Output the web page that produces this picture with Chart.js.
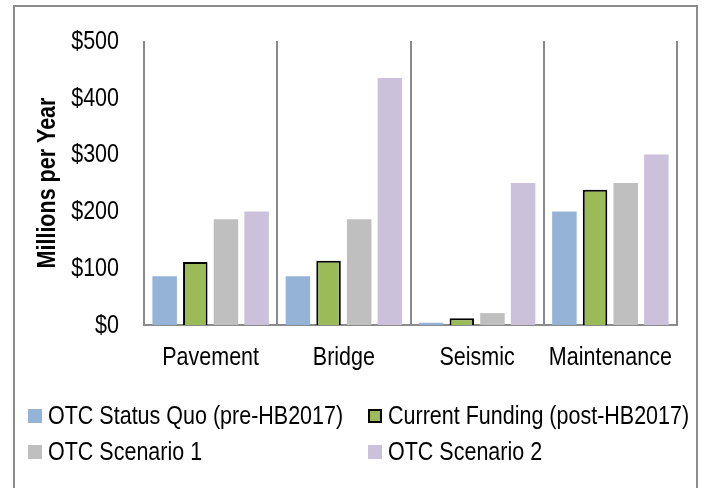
<!DOCTYPE html>
<html>
<head>
<meta charset="utf-8">
<script src="https://cdn.jsdelivr.net/npm/chart.js@4/dist/chart.umd.min.js"></script>
<style>
  html, body { margin: 0; padding: 0; background: #ffffff; }
  #wrap { position: relative; width: 709px; height: 488px; overflow: hidden; }
  canvas { display: block; }
</style>
</head>
<body>
<div id="wrap"><canvas id="chart" width="709" height="488"></canvas></div>
<script>
// Annual funding needs by asset category, millions of dollars per year
const categories = ['Pavement', 'Bridge', 'Seismic', 'Maintenance'];
const seriesNames = [
  'OTC Status Quo (pre-HB2017)',
  'Current Funding (post-HB2017)',
  'OTC Scenario 1',
  'OTC Scenario 2'
];
const statusQuo = [86, 86, 4, 200];
const currentFunding = [111, 113, 12, 238];
const scenario1 = [186, 186, 21, 250];
const scenario2 = [200, 435, 250, 300];
const yTicks = [0, 100, 200, 300, 400, 500];
const yTitle = 'Millions per Year';

const FONT = '"Liberation Sans", Arial, sans-serif';
const FONT_SIZE = 21.5;
const TEXT_STRETCH = 1.16;   // slightly tall lettering
const AXIS_GRAY = '#8a8a8a';

function tallText(ctx, text, x, y, align, rotate, bold) {
  ctx.save();
  ctx.translate(x, y);
  if (rotate) ctx.rotate(rotate);
  ctx.scale(1, TEXT_STRETCH);
  ctx.font = (bold ? 'bold ' : '') + FONT_SIZE + 'px ' + FONT;
  ctx.fillStyle = '#000000';
  ctx.textAlign = align;
  ctx.textBaseline = 'middle';
  ctx.fillText(text, 0, 0);
  ctx.restore();
}

// Axis labels placed through the chart's own scales
const axisText = {
  id: 'axisText',
  afterDraw(chart) {
    const ctx = chart.ctx;
    const xs = chart.scales.x, ys = chart.scales.y;
    yTicks.forEach(v => {
      tallText(ctx, '$' + v, ys.right - 25, ys.getPixelForValue(v) + 1, 'right');
    });
    categories.forEach((c, i) => {
      tallText(ctx, c, xs.getPixelForValue(i), xs.top + 33, 'center');
    });
    tallText(ctx, yTitle, 48, (ys.top + ys.bottom) / 2, 'center', -Math.PI / 2, true);
  }
};

// Two-column legend under the plot
const gridLegend = {
  id: 'gridLegend',
  afterDraw(chart) {
    const ctx = chart.ctx;
    const cols = [28, 368];
    const rows = [416, 452];
    chart.data.datasets.forEach((ds, i) => {
      const x = cols[i % 2];
      const y = rows[Math.floor(i / 2)];
      ctx.save();
      ctx.fillStyle = ds.backgroundColor;
      ctx.fillRect(x, y - 7, 14, 14);
      if (ds.borderWidth) {
        ctx.strokeStyle = ds.borderColor;
        ctx.lineWidth = 2;
        ctx.strokeRect(x + 1, y - 6, 12, 12);
      }
      ctx.restore();
      tallText(ctx, ds.label, x + 20, y + 1, 'left');
    });
  }
};

// Frame around the whole chart
const outerFrame = {
  id: 'outerFrame',
  afterDraw(chart) {
    const ctx = chart.ctx;
    ctx.save();
    ctx.strokeStyle = '#8c8c8c';
    ctx.lineWidth = 2;
    ctx.strokeRect(14, 6, 683, 600);
    ctx.restore();
  }
};

const seriesValues = [statusQuo, currentFunding, scenario1, scenario2];
const fills = ['#95B3D7', '#9BBB59', '#BFBFBF', '#CCC1DA'];

new Chart(document.getElementById('chart'), {
  type: 'bar',
  data: {
    labels: categories,
    datasets: seriesNames.map((name, i) => ({
      label: name,
      data: seriesValues[i],
      backgroundColor: fills[i],
      borderColor: '#000000',
      borderWidth: i === 1 ? 2 : 0,
      categoryPercentage: 0.92,
      barPercentage: 0.8
    }))
  },
  options: {
    responsive: false,
    animation: false,
    devicePixelRatio: 1,
    layout: { padding: { left: 20, right: 32, top: 41, bottom: 0 } },
    plugins: {
      legend: { display: false },
      tooltip: { enabled: false }
    },
    scales: {
      x: {
        offset: true,
        grid: {
          offset: true,
          display: true,
          drawTicks: false,
          color: AXIS_GRAY,
          lineWidth: 2
        },
        border: { display: true, color: AXIS_GRAY, width: 2 },
        ticks: { display: false },
        afterFit: (scale) => { scale.height = 163; }
      },
      y: {
        min: 0,
        max: 500,
        afterBuildTicks: (scale) => { scale.ticks = yTicks.map(v => ({ value: v })); },
        grid: { display: false, drawTicks: false },
        border: { display: false },
        ticks: { display: false },
        afterFit: (scale) => { scale.width = 124; }
      }
    }
  },
  plugins: [axisText, gridLegend, outerFrame]
});
</script>
</body>
</html>
